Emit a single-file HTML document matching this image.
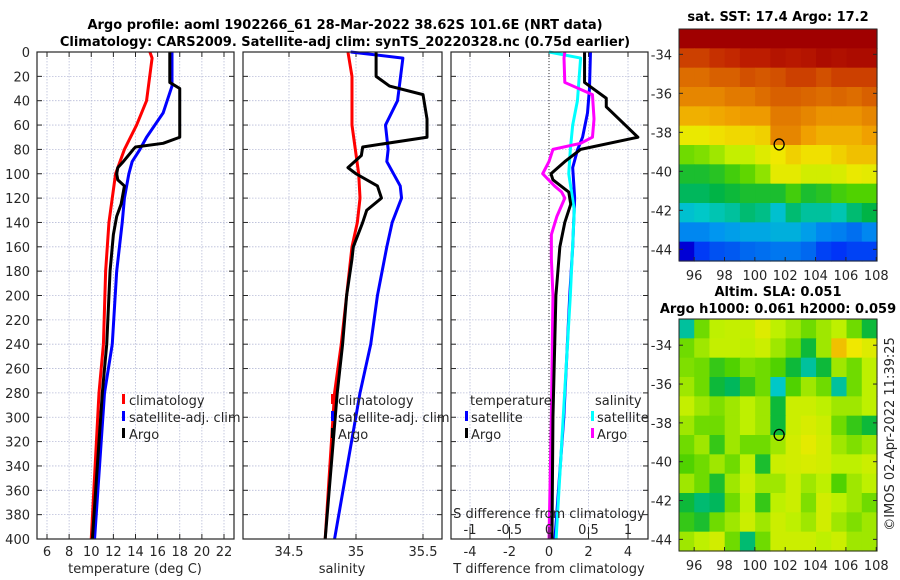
<!DOCTYPE html>
<html><head><meta charset="utf-8"><style>
body{margin:0;background:#fff}
svg{display:block;font-family:"DejaVu Sans","Liberation Sans",sans-serif}
.tk{font-size:13px;fill:#262626}
.lg{font-size:13px;fill:#262626}
.tt{font-size:13px;font-weight:bold;fill:#000}
</style></head><body>
<svg id="c" width="900" height="580" xmlns="http://www.w3.org/2000/svg">
<text class="tt" x="345" y="29" text-anchor="middle">Argo profile: aoml 1902266_61 28-Mar-2022 38.62S 101.6E (NRT data)</text>
<text class="tt" x="345" y="46" text-anchor="middle">Climatology: CARS2009. Satellite-adj clim: synTS_20220328.nc (0.75d earlier)</text>
<text class="tt" x="778" y="21" text-anchor="middle">sat. SST: 17.4 Argo: 17.2</text>
<text class="tt" x="778" y="296" text-anchor="middle">Altim. SLA: 0.051</text>
<text class="tt" x="778" y="313" text-anchor="middle">Argo h1000: 0.061 h2000: 0.059</text>
<text class="tk" transform="translate(894,434) rotate(-90)" text-anchor="middle">©IMOS 02-Apr-2022 11:39:25</text>
<g id="g"></g>
</svg>
<script>
// ---- profile data (depth in m) ----
const tClimD=[0,5,40,60,80,100,140,180,240,280,400];
const tClimV=[15.3,15.5,15.0,14.1,13.0,12.2,11.6,11.3,11.1,10.7,10.0];
const tSatD=[0,28,50,70,80,90,100,120,140,180,240,280,400];
const tSatV=[17.3,17.3,16.5,15.0,14.4,13.7,13.4,13.0,12.8,12.3,11.9,11.2,10.3];
const tArgoD=[0,25,30,35,70,75,78,80,90,95,100,105,110,125,135,150,160,180,240,280,400];
const tArgoV=[17.1,17.1,18.0,18.0,18.0,16.5,14.0,13.8,12.9,12.4,12.3,12.4,13.0,12.7,12.3,12.0,11.9,11.7,11.4,11.0,10.1];
const sClimD=[0,20,60,100,120,140,160,200,240,280,400];
const sClimV=[34.94,34.97,34.97,35.02,35.03,35.01,34.97,34.93,34.89,34.84,34.77];
const sSatD=[0,5,40,60,80,90,110,120,140,160,200,240,280,400];
const sSatV=[34.96,35.35,35.31,35.22,35.24,35.23,35.33,35.34,35.27,35.23,35.16,35.11,35.03,34.84];
const sArgoD=[0,20,28,35,55,70,78,85,95,100,110,120,130,140,160,170,200,240,280,400];
const sArgoV=[35.15,35.15,35.25,35.5,35.53,35.53,35.05,35.04,34.94,35.0,35.16,35.19,35.08,35.05,34.98,34.97,34.93,34.9,34.86,34.77];
const dTArgoD=[0,25,38,45,70,80,90,100,105,115,125,140,160,200,300,400];
const dTArgoV=[1.8,1.8,2.9,2.9,4.5,1.6,0.8,0.1,0.2,1.0,1.1,0.8,0.55,0.35,0.2,0.15];
const dTSatD=[0,30,50,70,80,95,120,160,200,300,400];
const dTSatV=[2.1,2.05,1.95,1.7,1.45,1.2,1.3,1.2,1.05,0.75,0.3];
const dSSatD=[0,5,40,60,80,100,130,200,300,400];
const dSSatV=[0,0.4,0.36,0.3,0.27,0.25,0.32,0.27,0.18,0.09];
const dSArgoD=[0,5,25,35,55,70,75,80,90,100,110,115,120,135,150,170,200,300,400];
const dSArgoV=[0.2,0.19,0.2,0.55,0.57,0.55,0.4,0.05,0,-0.08,0.07,0.16,0.2,0.1,0.03,0.03,0.05,0.03,0];
// ---- map data (colormap-normalised 0..1), rows lat -33..-44, cols lon 95..107 ----
const sstRows=[
[1,1,1,1,1,1,1,1,1,1,1,1,1],
[0.88,0.88,0.9,0.91,0.93,0.93,0.95,0.94,0.95,0.97,0.96,0.97,0.97],
[0.82,0.82,0.84,0.84,0.86,0.85,0.86,0.88,0.88,0.86,0.88,0.88,0.88],
[0.78,0.78,0.78,0.8,0.8,0.82,0.84,0.84,0.83,0.82,0.83,0.82,0.84],
[0.72,0.72,0.73,0.74,0.75,0.75,0.8,0.8,0.78,0.76,0.76,0.76,0.78],
[0.64,0.64,0.66,0.67,0.67,0.68,0.78,0.78,0.74,0.72,0.72,0.72,0.74],
[0.52,0.53,0.55,0.58,0.58,0.62,0.65,0.68,0.66,0.66,0.68,0.7,0.7],
[0.46,0.46,0.47,0.49,0.51,0.54,0.63,0.63,0.6,0.6,0.61,0.64,0.63],
[0.43,0.43,0.44,0.45,0.46,0.46,0.46,0.49,0.46,0.47,0.49,0.5,0.5],
[0.37,0.38,0.39,0.4,0.42,0.41,0.37,0.42,0.4,0.4,0.39,0.42,0.44],
[0.3,0.3,0.32,0.33,0.34,0.34,0.35,0.35,0.33,0.3,0.29,0.27,0.3],
[0.08,0.2,0.23,0.24,0.26,0.27,0.28,0.28,0.26,0.21,0.19,0.21,0.21]];
const slaRows=[
[0.4,0.52,0.57,0.58,0.58,0.62,0.57,0.55,0.52,0.55,0.57,0.52,0.45],
[0.52,0.55,0.58,0.58,0.57,0.59,0.55,0.52,0.45,0.55,0.7,0.65,0.62],
[0.53,0.52,0.48,0.5,0.53,0.52,0.5,0.45,0.4,0.45,0.55,0.52,0.57],
[0.55,0.52,0.45,0.43,0.48,0.52,0.38,0.5,0.55,0.52,0.4,0.52,0.57],
[0.58,0.55,0.53,0.55,0.57,0.55,0.45,0.59,0.59,0.57,0.55,0.55,0.57],
[0.55,0.52,0.52,0.55,0.57,0.55,0.45,0.59,0.61,0.59,0.52,0.48,0.45],
[0.52,0.55,0.48,0.55,0.52,0.52,0.55,0.6,0.63,0.6,0.55,0.53,0.55],
[0.5,0.52,0.55,0.52,0.57,0.46,0.59,0.6,0.61,0.6,0.57,0.57,0.59],
[0.55,0.52,0.46,0.55,0.59,0.55,0.55,0.59,0.55,0.57,0.5,0.55,0.57],
[0.45,0.42,0.43,0.52,0.57,0.48,0.57,0.59,0.53,0.6,0.57,0.55,0.52],
[0.48,0.46,0.52,0.55,0.59,0.55,0.59,0.57,0.55,0.6,0.55,0.53,0.55],
[0.55,0.57,0.6,0.52,0.42,0.52,0.59,0.59,0.59,0.57,0.59,0.55,0.55]];
const depthTicks=[0,20,40,60,80,100,120,140,160,180,200,220,240,260,280,300,320,340,360,380,400];
const tTicks=[6,8,10,12,14,16,18,20,22];
const sTicks=[34.5,35,35.5];
const dTTicks=[-4,-2,0,2,4];
const dSTicks=[-1,-0.5,0,0.5,1];
const latTicks=[-34,-36,-38,-40,-42,-44];
const lonTicks=[96,98,100,102,104,106,108];
const argoLon=101.6, argoLat=-38.62;

const NS='http://www.w3.org/2000/svg';
const G=document.getElementById('g');
function mk(t,a,p){const e=document.createElementNS(NS,t);for(const k in a)e.setAttribute(k,a[k]);(p||G).appendChild(e);return e;}
const yTop=52,yBot=539;
const yD=d=>yTop+d*(yBot-yTop)/400;
const xT=v=>47+(v-6)*(177/16);
const xS=v=>289+(v-34.5)*134;
const xDT=v=>549+v*19.75;
const xDS=v=>549+v*79;

function grid(x0,x1,xs,fn){
  xs.forEach(v=>{const l=mk('line',{x1:fn(v),x2:fn(v),y1:yTop,y2:yBot,stroke:'#b8bcd8','stroke-width':0.8,'stroke-dasharray':'1.5,1.5'});
  });
  depthTicks.forEach(d=>{const l=mk('line',{x1:x0,x2:x1,y1:yD(d),y2:yD(d),stroke:'#b8bcd8','stroke-width':0.8,'stroke-dasharray':'1.5,1.5'});
  
  [x0,x1-5].forEach(xx=>{const t=mk('line',{x1:xx,x2:xx+5,y1:yD(d),y2:yD(d),stroke:'#262626'});
  });});
  xs.forEach(v=>{[yTop,yBot-5].forEach(yy=>{const t=mk('line',{x1:fn(v),x2:fn(v),y1:yy,y2:yy+5,stroke:'#262626'});
  });
  const tx=mk('text',{x:fn(v),y:556,'text-anchor':'middle',class:'tk'});tx.textContent=v;
  });
}
function frame(x0,x1,name){const r=mk('rect',{x:x0,y:yTop,width:x1-x0,height:yBot-yTop,fill:'none',stroke:'#262626','stroke-width':1.2});
  }
function line(D,V,fx,col,name){const p=mk('polyline',{points:D.map((d,i)=>fx(V[i])+','+yD(d)).join(' '),fill:'none',stroke:col,'stroke-width':3,'stroke-linejoin':'round'});
  }
function txt(x,y,s,name,anchor){const t=mk('text',{x:x,y:y,class:'lg','text-anchor':anchor||'start'});t.textContent=s;
  return t;}
function swatch(x,y,col,name){const r=mk('rect',{x:x,y:y-11,width:3,height:10,fill:col});
  }

// panel 1
grid(37,234,tTicks,xT);
depthTicks.forEach(d=>{txt(30,yD(d)+5,d,'depth-tick-label','end');});
line(tClimD,tClimV,xT,'#ff0000','temp-climatology-line');
line(tSatD,tSatV,xT,'#0000ff','temp-satellite-line');
line(tArgoD,tArgoV,xT,'#000','temp-argo-line');
frame(37,234,'temperature-panel');
txt(135,573,'temperature (deg C)','temperature-axis-title','middle');
swatch(122,405,'#ff0000','legend-swatch-climatology');txt(129,405,'climatology','legend-climatology');
swatch(122,422,'#0000ff','legend-swatch-satellite');txt(129,422,'satellite-adj. clim','legend-satellite-adj');
swatch(122,439,'#000','legend-swatch-argo');txt(129,439,'Argo','legend-argo');

// panel 2
grid(243,442,sTicks,xS);
line(sClimD,sClimV,xS,'#ff0000','sal-climatology-line');
line(sSatD,sSatV,xS,'#0000ff','sal-satellite-line');
line(sArgoD,sArgoV,xS,'#000','sal-argo-line');
frame(243,442,'salinity-panel');
txt(342,573,'salinity','salinity-axis-title','middle');
swatch(331,405,'#ff0000','legend-swatch-climatology');txt(338,405,'climatology','legend-climatology');
swatch(331,422,'#0000ff','legend-swatch-satellite');txt(338,422,'satellite-adj. clim','legend-satellite-adj');
swatch(331,439,'#000','legend-swatch-argo');txt(338,439,'Argo','legend-argo');

// panel 3
grid(451,648,dTTicks,xDT);
const zl=mk('line',{x1:xDT(0),x2:xDT(0),y1:yTop,y2:yBot,stroke:'#333','stroke-width':1,'stroke-dasharray':'1,2'});

line(dTSatD,dTSatV,xDT,'#0000ff','tdiff-satellite-line');
line(dSSatD,dSSatV,xDS,'#00ffff','sdiff-satellite-line');
line(dSArgoD,dSArgoV,xDS,'#ff00ff','sdiff-argo-line');
line(dTArgoD,dTArgoV,xDT,'#000','tdiff-argo-line');
frame(451,648,'difference-panel');
txt(549,573,'T difference from climatology','tdiff-axis-title','middle');
txt(549,518,'S difference from climatology','sdiff-axis-title','middle');
dSTicks.forEach(v=>{txt(xDS(v),534,v,'sdiff-tick-label','middle');
  const l=mk('line',{x1:xDS(v),x2:xDS(v),y1:527,y2:539,stroke:'#262626'});});
txt(470,405,'temperature','legend-temperature-header');
swatch(465,422,'#0000ff','legend-swatch-t-satellite');txt(471,422,'satellite','legend-t-satellite');
swatch(465,439,'#000','legend-swatch-t-argo');txt(471,439,'Argo','legend-t-argo');
txt(595,405,'salinity','legend-salinity-header');
swatch(591,422,'#00ffff','legend-swatch-s-satellite');txt(597,422,'satellite','legend-s-satellite');
swatch(591,439,'#ff00ff','legend-swatch-s-argo');txt(597,439,'Argo','legend-s-argo');

// colormap
const cmStops=[[0,[0,0,128]],[0.12,[0,0,255]],[0.25,[0,96,240]],[0.32,[0,150,240]],[0.38,[0,200,200]],[0.44,[0,180,70]],[0.5,[80,210,0]],[0.57,[190,240,0]],[0.65,[240,232,0]],[0.74,[240,160,0]],[0.84,[216,96,0]],[0.92,[192,32,0]],[1,[160,0,0]]];
function cmap(v){v=Math.max(0,Math.min(1,v));
  for(let i=1;i<cmStops.length;i++){if(v<=cmStops[i][0]){const a=cmStops[i-1],b=cmStops[i],t=(v-a[0])/(b[0]-a[0]);
    return 'rgb('+a[1].map((c,k)=>Math.round(c+(b[1][k]-c)*t)).join(',')+')';}}
  return 'rgb(160,0,0)';}
function map(rows,top,bot,latTop,latBot,name){
  const x0=679,x1=877,lon0=95,lon1=108.05;
  const mx=l=>x0+(l-lon0)*(x1-x0)/(lon1-lon0);
  const my=l=>top+(latTop-l)*(bot-top)/(latTop-latBot);
  const nR=rows.length,nC=rows[0].length;
  const ch=(bot-top)/nR, cw=(x1-x0)/nC;
  rows.forEach((row,i)=>row.forEach((v,j)=>{const r=mk('rect',{x:x0+j*cw,y:top+i*ch,width:cw+0.6,height:ch+0.6,fill:cmap(v)});
    }));
  const f=mk('rect',{x:x0,y:top,width:x1-x0,height:bot-top,fill:'none',stroke:'#262626'});
  
  latTicks.forEach(l=>{txt(672,my(l)+5,l,name+'-lat-label','end');
    const t=mk('line',{x1:x0,x2:x0+4,y1:my(l),y2:my(l),stroke:'#262626'});
    const t2=mk('line',{x1:x1-4,x2:x1,y1:my(l),y2:my(l),stroke:'#262626'});});
  lonTicks.forEach(l=>{txt(mx(l),bot+19,l,name+'-lon-label','middle');
    const t=mk('line',{x1:mx(l),x2:mx(l),y1:bot-4,y2:bot,stroke:'#262626'});});
  const c=mk('ellipse',{cx:mx(argoLon),cy:my(argoLat),rx:5,ry:5.5,fill:'none',stroke:'#000','stroke-width':1.3});
  
}
map(sstRows,29,261,-32.7,-44.6,'sst-map');
map(slaRows,319,551,-32.65,-44.6,'sla-map');
</script>
</body></html>
